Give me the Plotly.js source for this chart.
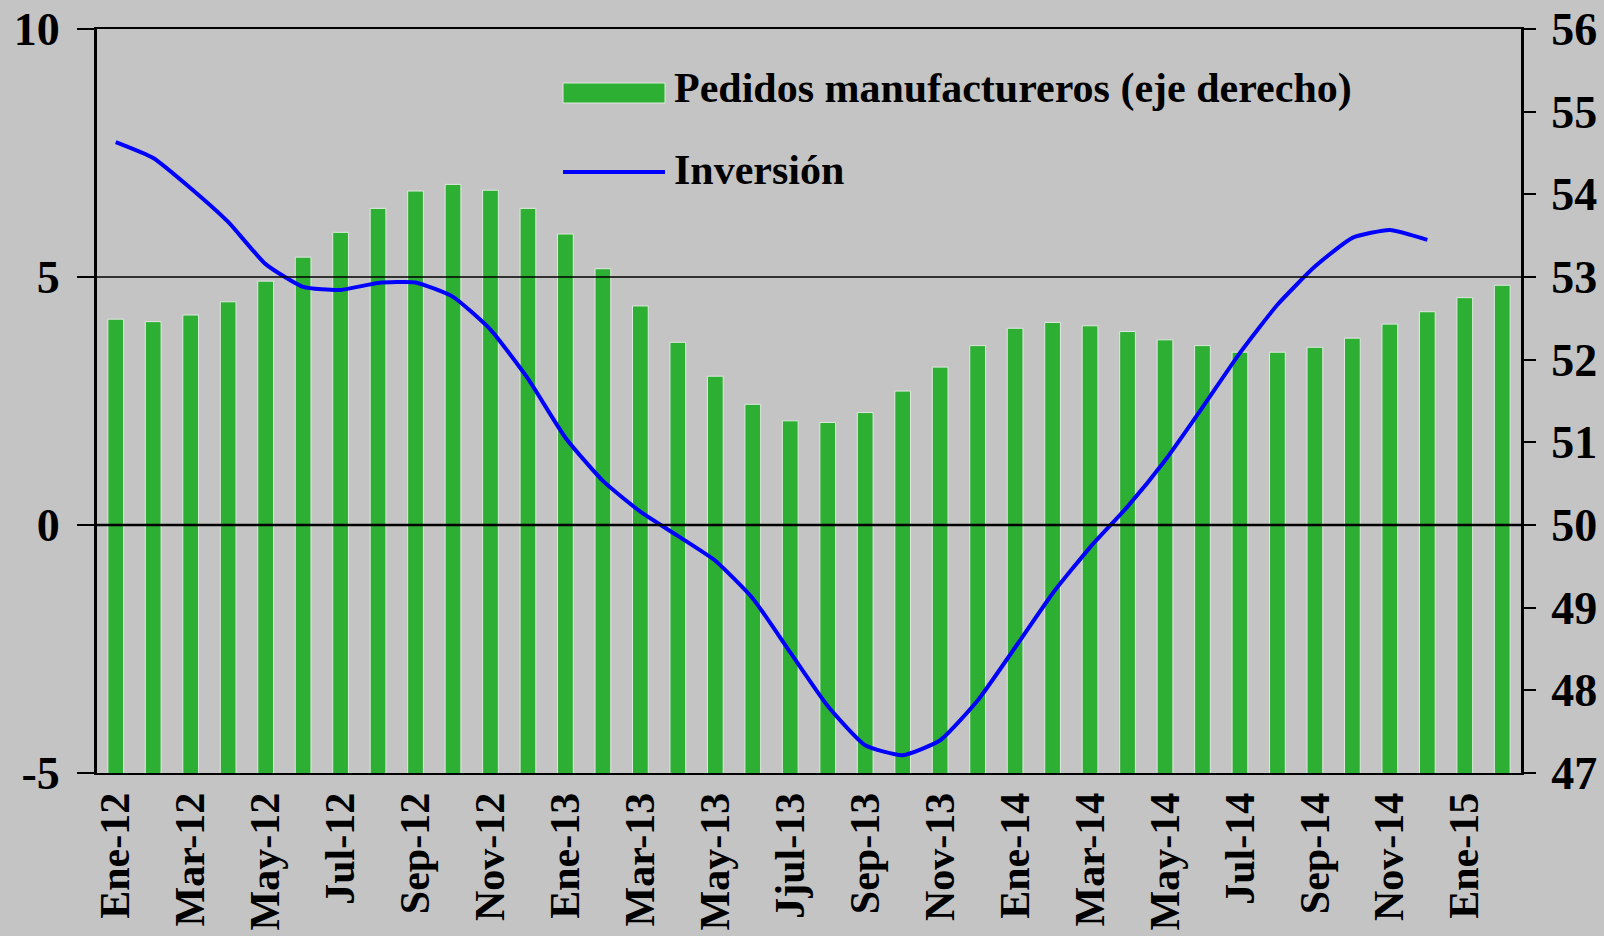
<!DOCTYPE html>
<html>
<head>
<meta charset="utf-8">
<script src="https://cdn.plot.ly/plotly-3.0.1.min.js"></script>
<style>
  html, body { margin: 0; padding: 0; background: #c4c4c4; }
  #chart { width: 1604px; height: 936px; }
</style>
</head>
<body>
<div id="chart"></div>
<script>
// Months (categories)
const months = [
  "Ene-12","Feb-12","Mar-12","Abr-12","May-12","Jun-12","Jul-12","Ago-12","Sep-12","Oct-12","Nov-12","Dic-12",
  "Ene-13","Feb-13","Mar-13","Abr-13","May-13","Jun-13","Jul-13","Ago-13","Sep-13","Oct-13","Nov-13","Dic-13",
  "Ene-14","Feb-14","Mar-14","Abr-14","May-14","Jun-14","Jul-14","Ago-14","Sep-14","Oct-14","Nov-14","Dic-14",
  "Ene-15","Feb-15"
];

// Pedidos manufactureros (eje derecho)
const pedidos = [
  52.49, 52.46, 52.54, 52.70, 52.95, 53.24, 53.54, 53.83, 54.04, 54.12, 54.05, 53.83,
  53.52, 53.10, 52.65, 52.21, 51.80, 51.46, 51.26, 51.24, 51.36, 51.62, 51.91, 52.17,
  52.38, 52.45, 52.41, 52.34, 52.24, 52.17, 52.09, 52.09, 52.15, 52.26, 52.43, 52.58,
  52.75, 52.90
];

// Inversión (eje izquierdo), Ene-12 .. Dic-14
const inversionMonths = months.slice(0, 36);
const inversion = [
  7.72, 7.40, 6.79, 6.11, 5.26, 4.80, 4.74, 4.88, 4.89, 4.60, 3.94, 2.95,
  1.76, 0.89, 0.27, -0.22, -0.72, -1.48, -2.57, -3.65, -4.44, -4.64, -4.34, -3.54,
  -2.47, -1.38, -0.45, 0.37, 1.30, 2.37, 3.47, 4.44, 5.21, 5.79, 5.95, 5.75
];

// Tick labels shown on the x axis
const tickMonths = ["Ene-12","Mar-12","May-12","Jul-12","Sep-12","Nov-12","Ene-13","Mar-13","May-13","Jul-13","Sep-13","Nov-13","Ene-14","Mar-14","May-14","Jul-14","Sep-14","Nov-14","Ene-15"];
const tickLabels = ["Ene-12","Mar-12","May-12","Jul-12","Sep-12","Nov-12","Ene-13","Mar-13","May-13","Jjul-13","Sep-13","Nov-13","Ene-14","Mar-14","May-14","Jul-14","Sep-14","Nov-14","Ene-15"];

const leftTicks = [-5, 0, 5, 10];
const leftTickLabels = ["-5", "0", "5", "10"];
const rightTicks = [47, 48, 49, 50, 51, 52, 53, 54, 55, 56];

const seriesNames = ["Pedidos manufactureros (eje derecho)", "Inversión"];

const GREEN = "#2daf33";
const BLUE = "#0000ff";
const BG = "#c4c4c4";
const FONT = "Liberation Serif";

const traces = [
  {
    type: "bar",
    name: seriesNames[0],
    x: months,
    y: pedidos,
    yaxis: "y",
    width: 0.42,
    marker: { color: GREEN, line: { color: "#dfe9df", width: 1 } },
    hoverinfo: "x+y"
  },
  {
    type: "scatter",
    mode: "lines",
    name: seriesNames[1],
    x: inversionMonths,
    y: inversion,
    yaxis: "y2",
    line: { color: BLUE, width: 4, shape: "spline", smoothing: 0.5 }
  }
];

// paper-coordinate helpers for custom legend
const px = (p) => (p - 97) / 1424;
const py = (p) => (773 - p) / 744;

const layout = {
  width: 1604,
  height: 936,
  margin: { l: 97, r: 83, t: 29, b: 163, pad: 0 },
  paper_bgcolor: BG,
  plot_bgcolor: BG,
  showlegend: false,
  font: { family: FONT, color: "black" },
  xaxis: {
    type: "category",
    categoryorder: "array",
    categoryarray: months,
    range: [-0.5, months.length - 0.5],
    tickmode: "array",
    tickvals: tickMonths,
    ticktext: tickLabels,
    tickangle: -90,
    tickfont: { family: FONT, size: 42, weight: "bold", color: "black" },
    ticks: "",
    ticklabelstandoff: 1,
    showline: true,
    mirror: true,
    linecolor: "black",
    linewidth: 2,
    showgrid: false,
    zeroline: false
  },
  yaxis: {
    side: "right",
    range: [47, 56],
    tickmode: "array",
    tickvals: rightTicks,
    ticks: "outside",
    ticklen: 12,
    tickwidth: 2,
    tickcolor: "black",
    showline: true,
    linecolor: "black",
    linewidth: 3,
    showgrid: false,
    zeroline: false,
    tickfont: { family: FONT, size: 46, weight: "bold", color: "black" },
    ticklabelstandoff: 6
  },
  yaxis2: {
    overlaying: "y",
    side: "left",
    range: [-5, 10],
    tickmode: "array",
    tickvals: leftTicks,
    ticktext: leftTickLabels,
    ticks: "outside",
    ticklen: 17,
    tickwidth: 2,
    tickcolor: "black",
    showline: true,
    linecolor: "black",
    linewidth: 3,
    showgrid: false,
    zeroline: false,
    tickfont: { family: FONT, size: 46, weight: "bold", color: "black" },
    ticklabelstandoff: 8
  },
  shapes: [
    { type: "line", xref: "paper", yref: "y2", x0: 0, x1: 1, y0: 5, y1: 5, line: { color: "black", width: 1.5 }, layer: "above" },
    { type: "line", xref: "paper", yref: "y2", x0: 0, x1: 1, y0: 0, y1: 0, line: { color: "black", width: 2.5 }, layer: "above" },
    // custom legend keys
    { type: "rect", xref: "paper", yref: "paper", x0: px(563), x1: px(665), y0: py(103), y1: py(83), fillcolor: GREEN, line: { color: "#dfe9df", width: 1 }, layer: "above" },
    { type: "line", xref: "paper", yref: "paper", x0: px(563), x1: px(665), y0: py(172), y1: py(172), line: { color: BLUE, width: 4 }, layer: "above" }
  ],
  annotations: [
    { xref: "paper", yref: "paper", x: px(672), y: py(88), xanchor: "left", yanchor: "middle", showarrow: false,
      text: seriesNames[0], font: { family: FONT, size: 42, weight: "bold", color: "black" } },
    { xref: "paper", yref: "paper", x: px(672), y: py(170), xanchor: "left", yanchor: "middle", showarrow: false,
      text: seriesNames[1], font: { family: FONT, size: 42, weight: "bold", color: "black" } }
  ]
};

Plotly.newPlot("chart", traces, layout, { displayModeBar: false, staticPlot: true });
</script>
</body>
</html>
